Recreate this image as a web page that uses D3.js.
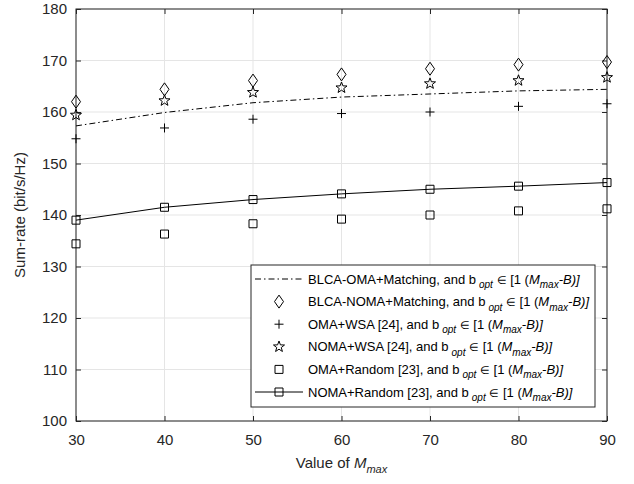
<!DOCTYPE html>
<html>
<head>
<meta charset="utf-8">
<script src="https://cdn.jsdelivr.net/npm/d3@7"></script>
<style>
  body { margin: 0; background: #fff; }
  svg { display: block; font-family: 'Liberation Sans', Arial, sans-serif; }
</style>
</head>
<body>
<svg id="chart" width="634" height="484"></svg>
<script>
// values
const mMax = [30, 40, 50, 60, 70, 80, 90]
const blcaOmaMatching = [157.3, 159.9, 161.8, 162.9, 163.5, 164.1, 164.4]
const blcaNomaMatching = [162.0, 164.4, 166.1, 167.3, 168.4, 169.2, 169.7]
const omaWsa = [154.8, 156.9, 158.6, 159.7, 160.0, 161.1, 161.6]
const nomaWsa = [159.4, 162.2, 163.8, 164.7, 165.5, 166.1, 166.7]
const omaRandom = [134.4, 136.3, 138.3, 139.2, 140.0, 140.8, 141.2]
const nomaRandom = [139.0, 141.5, 143.0, 144.1, 145.0, 145.6, 146.3]

const xTicks = [30, 40, 50, 60, 70, 80, 90]
const yTicks = [100, 110, 120, 130, 140, 150, 160, 170, 180]

const legendNames = [
  'BLCA-OMA+Matching, and b',
  'BLCA-NOMA+Matching, and b',
  'OMA+WSA [24], and b',
  'NOMA+WSA [24], and b',
  'OMA+Random [23], and b',
  'NOMA+Random [23], and b'
]

const series = [
  { values: blcaOmaMatching, line: true, dash: '6,3,1.5,3', marker: null },
  { values: blcaNomaMatching, line: false, marker: 'diamond' },
  { values: omaWsa, line: false, marker: 'plus' },
  { values: nomaWsa, line: false, marker: 'star' },
  { values: omaRandom, line: false, marker: 'square' },
  { values: nomaRandom, line: true, dash: null, marker: 'square' }
]

const margin = { left: 76, right: 27, top: 9, bottom: 63 }
const svg = d3.select('#chart')
const width = +svg.attr('width')
const height = +svg.attr('height')
const innerW = width - margin.left - margin.right
const innerH = height - margin.top - margin.bottom
const axisColor = '#262626'

const x = d3.scaleLinear().domain([30, 90]).range([margin.left, margin.left + innerW])
const y = d3.scaleLinear().domain([100, 180]).range([margin.top + innerH, margin.top])

// grid
const grid = svg.append('g').attr('class', 'grid')
grid.selectAll('line.gx').data(xTicks).enter().append('line')
  .attr('x1', d => x(d)).attr('x2', d => x(d))
  .attr('y1', margin.top).attr('y2', margin.top + innerH)
  .attr('stroke', '#e5e5e5').attr('stroke-width', 1)
grid.selectAll('line.gy').data(yTicks).enter().append('line')
  .attr('y1', d => y(d)).attr('y2', d => y(d))
  .attr('x1', margin.left).attr('x2', margin.left + innerW)
  .attr('stroke', '#e5e5e5').attr('stroke-width', 1)

function styleAxis (g, showText) {
  g.select('.domain').remove()
  g.selectAll('.tick line').attr('stroke', axisColor).attr('stroke-width', 1)
  g.selectAll('.tick text')
    .attr('fill', axisColor)
    .style('font-size', '15px')
    .style('display', showText ? null : 'none')
}

const tickLen = 5
svg.append('g')
  .attr('transform', 'translate(0,' + (margin.top + innerH) + ')')
  .call(d3.axisBottom(x).tickValues(xTicks).tickSizeInner(-tickLen).tickSizeOuter(0).tickPadding(13))
  .call(g => styleAxis(g, true))
svg.append('g')
  .attr('transform', 'translate(0,' + margin.top + ')')
  .call(d3.axisTop(x).tickValues(xTicks).tickSizeInner(-tickLen).tickSizeOuter(0))
  .call(g => styleAxis(g, false))
svg.append('g')
  .attr('transform', 'translate(' + margin.left + ',0)')
  .call(d3.axisLeft(y).tickValues(yTicks).tickSizeInner(-tickLen).tickSizeOuter(0).tickPadding(9))
  .call(g => styleAxis(g, true))
svg.append('g')
  .attr('transform', 'translate(' + (margin.left + innerW) + ',0)')
  .call(d3.axisRight(y).tickValues(yTicks).tickSizeInner(-tickLen).tickSizeOuter(0))
  .call(g => styleAxis(g, false))

svg.append('rect')
  .attr('x', margin.left).attr('y', margin.top)
  .attr('width', innerW).attr('height', innerH)
  .attr('fill', 'none').attr('stroke', axisColor).attr('stroke-width', 1)

// marker shapes
function markerPath (type) {
  if (type === 'diamond') return 'M0,-6.5L4.5,0L0,6.5L-4.5,0Z'
  if (type === 'plus') return 'M-4.5,0H4.5M0,-4.5V4.5'
  if (type === 'square') return 'M-4,-4H4V4H-4Z'
  if (type === 'star') {
    let pts = []
    for (let i = 0; i < 10; i++) {
      let r = i % 2 === 0 ? 5.8 : 2.4
      let a = -Math.PI / 2 + i * Math.PI / 5
      pts.push([r * Math.cos(a), r * Math.sin(a)])
    }
    return 'M' + pts.map(p => p[0].toFixed(2) + ',' + p[1].toFixed(2)).join('L') + 'Z'
  }
  return ''
}

const lineGen = d3.line().x((d, i) => x(mMax[i])).y(d => y(d))

const plot = svg.append('g').attr('class', 'series')
series.forEach(function (s) {
  if (s.line) {
    plot.append('path')
      .datum(s.values)
      .attr('d', lineGen)
      .attr('fill', 'none')
      .attr('stroke', '#000')
      .attr('stroke-width', 1)
      .attr('stroke-dasharray', s.dash)
  }
  if (s.marker) {
    plot.append('g').selectAll('path')
      .data(s.values)
      .enter().append('path')
      .attr('transform', (d, i) => 'translate(' + x(mMax[i]) + ',' + y(d) + ')')
      .attr('d', markerPath(s.marker))
      .attr('fill', 'none')
      .attr('stroke', '#000')
      .attr('stroke-width', 1)
  }
})

// legend
const legend = svg.append('g').attr('class', 'legend')
const lgX = 251
const lgY = 265
const lgW = 344
const lgH = 142
const rowH = 22.6
legend.append('rect')
  .attr('x', lgX).attr('y', lgY).attr('width', lgW).attr('height', lgH)
  .attr('fill', '#fff').attr('stroke', axisColor).attr('stroke-width', 1)

legendNames.forEach(function (name, i) {
  let s = series[i]
  let cy = lgY + 14 + i * rowH
  let row = legend.append('g')
  if (s.line) {
    row.append('line')
      .attr('x1', lgX + 4).attr('x2', lgX + 52).attr('y1', cy).attr('y2', cy)
      .attr('stroke', '#000').attr('stroke-width', 1)
      .attr('stroke-dasharray', s.dash)
  }
  if (s.marker) {
    row.append('path')
      .attr('transform', 'translate(' + (lgX + 28) + ',' + cy + ')')
      .attr('d', markerPath(s.marker))
      .attr('fill', 'none').attr('stroke', '#000').attr('stroke-width', 1)
  }
  let t = row.append('text')
    .attr('x', lgX + 57).attr('y', cy + 4.5)
    .attr('fill', '#000')
    .style('font-size', '13px')
  t.append('tspan').text(name)
  t.append('tspan').attr('dx', 3).attr('dy', 4.5).style('font-size', '10px').style('font-style', 'italic').text('opt')
  t.append('tspan').attr('dy', -4.5).text(' ')
  t.append('tspan').style('font-size', '11px').text('\u2208')
  t.append('tspan').text(' [1 (')
  t.append('tspan').style('font-style', 'italic').text('M')
  t.append('tspan').attr('dy', 4.5).style('font-size', '10px').style('font-style', 'italic').text('max')
  t.append('tspan').attr('dy', -4.5).style('font-style', 'italic').text('-B)]')
})

// axis titles
const xl = svg.append('text')
  .attr('x', margin.left + innerW / 2).attr('y', 468)
  .attr('text-anchor', 'middle')
  .attr('fill', axisColor)
  .style('font-size', '15px')
xl.append('tspan').text('Value of ')
xl.append('tspan').style('font-style', 'italic').text('M')
xl.append('tspan').attr('dy', 5).style('font-size', '11px').style('font-style', 'italic').text('max')

svg.append('text')
  .attr('transform', 'translate(25,' + (margin.top + innerH / 2) + ') rotate(-90)')
  .attr('text-anchor', 'middle')
  .attr('fill', axisColor)
  .style('font-size', '15px')
  .text('Sum-rate (bit/s/Hz)')
</script>
</body>
</html>
